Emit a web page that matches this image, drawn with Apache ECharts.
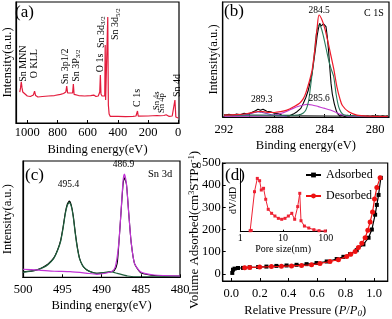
<!DOCTYPE html>
<html><head><meta charset="utf-8">
<script src="https://cdn.jsdelivr.net/npm/echarts@6/dist/echarts.min.js"></script>
<style>html,body{margin:0;padding:0;background:#fff}#c{width:392px;height:319px}</style>
</head><body><div id="c"></div>
<script>
// ---------- data ----------
// (a) survey spectrum [binding energy, intensity]
const surveyA = [[1050,25.6],[1045,29],[1040,34],[1035,29],[1030,25.6],[1020,24],[1000,22.3],[980,21.9],[960,23.1],[952,26.4],[945,22.7],[930,21.5],[900,21.9],[860,22.3],[820,22.7],[780,23.6],[760,24.4],[745,25.6],[739,30.6],[733,24.8],[720,24],[700,24.8],[695,32.2],[690,23.6],[660,22.7],[620,22.3],[580,22.7],[560,23.1],[545,21.9],[530,22.3],[520,25.6],[516,39.7],[512,24],[505,22.3],[500,23.1],[492,21.5],[487,22.3],[484,64.5],[481,19],[472,17.4],[467,87.6],[463,14.9],[458,7.4],[450,5.4],[400,5.4],[350,5.3],[300,5.4],[280,5.8],[270,9.9],[265,5.6],[200,5.8],[140,6.2],[131,7.4],[120,6.0],[95,6.2],[80,6.8],[70,6.0],[60,5.4],[40,5.8],[22,19],[16,5],[5,4.1],[0,4.1]];
const surveyTicks = [0,200,400,600,800,1000];
// [label, BE, intensity at label start, font size]
const surveyNotes = [['{t|Sn MNN}',1029,34,10],['{t|O KLL}',950,37,10],['{t|Sn 3p1/2}',747,32,10],['{t|Sn 3P}{s|3/2}',675,34,10],['{t|O 1s}',518,42,10],['{t|Sn 3d}{s|3/2}',512,62,10],['{t|Sn 3d}{s|5/2}',414,68.6,10],['{t|C 1s}',270,13.2,10],['{t|Sn 4s}',142,10.7,8.5],['{t|Sn 4p}',106,8.3,8.5],['{t|Sn 4d}',8,21.5,10]];

// (b) C 1s
const c1sRaw = [[291.9,1.5],[291.6,2.4],[291.3,1.2],[291.0,2.6],[290.7,2.0],[290.4,3.2],[290.1,2.4],[289.8,4.0],[289.5,5.5],[289.3,6.8],[289.1,5.9],[288.9,6.8],[288.6,5.0],[288.3,4.6],[288.0,3.2],[287.7,3.0],[287.4,1.5],[287.1,1.2],[286.8,1.0],[286.5,2.5],[286.2,4.6],[285.9,7.5],[285.7,11.9],[285.5,17],[285.3,23.5],[285.15,31],[285.0,38],[284.85,50],[284.75,58],[284.6,71],[284.5,77],[284.4,81.5],[284.3,79],[284.2,80],[284.1,81],[284.0,80],[283.9,78.5],[283.8,70],[283.7,58],[283.6,43],[283.5,29],[283.4,20],[283.25,11.9],[283.1,6],[283.0,3.2],[282.8,0.8],[282.6,1.5],[282.4,0.5],[282.2,1.4],[282.0,0.6],[281.8,1.2],[281.6,0.4],[281.4,1.0],[281.2,0.3],[281.0,1.1],[280.8,0.5],[280.6,1.0],[280.4,0.2],[280.2,1.3],[280.0,0.6],[279.8,1.1],[279.6,0.4],[279.4,1.2],[279.2,0.5],[279.0,1.3]];
const c1sFit = [[292,1.7],[291,2.0],[290.2,2.8],[289.7,4.0],[289.3,4.8],[288.9,4.6],[288.4,4.0],[288,3.9],[287.5,4.6],[287,6],[286.5,8.7],[286,12],[285.7,16],[285.5,21],[285.25,30],[285,41],[284.85,53],[284.75,62],[284.6,78],[284.45,88.7],[284.2,84],[284.0,77],[283.8,68],[283.56,56],[283.29,42],[283.03,26],[282.8,16],[282.6,10],[282.1,4.5],[281.45,1.7],[280.5,0.8],[279,0.5]];
const c1sMain = [[292,1.5],[287,1.5],[286,2],[285.7,3.5],[285.5,6],[285.3,13],[285.2,20],[284.94,43.5],[284.8,58],[284.67,72],[284.46,80],[284.3,78],[284.1,70],[283.9,60],[283.7,50],[283.5,42],[283.29,35],[283.1,20],[282.9,9],[282.7,4],[282.5,2],[282,1.2],[279,0.8]];
const c1sCO = [[292,0.8],[289,1],[288,1.8],[287.5,3],[287,5],[286.5,7.5],[286,9.5],[285.6,10.7],[285.4,11],[285.0,10.5],[284.5,9],[284,7.5],[283.56,6],[283,3.5],[282.6,1.7],[282,0.8],[279,0.3]];
const c1sOCO = [[291.5,1],[290.5,1.5],[290,2.5],[289.6,3.8],[289.3,4.4],[289,4],[288.6,3],[288.2,1.8],[287.6,1.0],[287,0.8]];
const c1sBase = [[292,1.9],[279,0.5]];
const c1sTicks = [280,284,288,292];
const c1sNotes = [['284.5',284.45,93],['285.6',284.45,16.5],['289.3',289.0,14.8]];

// (c) Sn 3d
const sn3dRaw = [[500,4.8],[499,5.3],[498,6.8],[497.4,8.8],[496.8,11.5],[496.1,16.5],[495.6,23.5],[495.2,32],[494.9,43],[494.6,56],[494.35,63],[494.1,65.5],[493.85,62],[493.6,53],[493.35,39],[493.1,27],[492.8,16.5],[492.4,10],[491.9,6.5],[491.2,4.4],[490.6,3.5],[489.8,3.8],[488.9,4.6],[488.4,5.5],[488.0,12],[487.8,28],[487.5,57],[487.24,81],[487.08,85.5],[486.82,80],[486.53,55],[486.22,30],[485.8,12],[485.04,4],[484,2.2],[483.3,1.6],[482,1.2],[480,1.0]];
const sn3dFit32 = [[500,4.3],[498.6,5.7],[497.4,8.5],[496.8,11],[496.1,16],[495.6,23],[495.2,31],[494.9,42],[494.6,55],[494.35,62],[494.1,64.2],[493.85,61],[493.6,52],[493.35,38],[493.1,26],[492.8,16],[492.4,10],[491.9,6.5],[491.2,4.2],[490.6,3.4],[489.8,4],[488.9,4.8],[488.0,3.4],[486.7,1.1],[485.0,0.3],[480,0.3]];
const sn3dFit52 = [[500,6.9],[498,6.2],[496,5.2],[494,4.8],[492,3.6],[490.6,2.6],[489.5,3.5],[488.6,5.5],[488.23,9.1],[487.8,29],[487.5,57.9],[487.24,83.7],[487.08,88.8],[486.82,80],[486.53,55],[486.22,30],[485.8,12],[485.04,4.8],[483.3,2.0],[480,1.1]];
const sn3dTicks = [480,485,490,495,500];
const sn3dNotes = [['495.4',494.2,79.4],['486.9',487.2,96.6]];

// (d) N2 isotherm [P/P0, volume]
const adsorbed = [[0.007,4.4],[0.012,19],[0.023,23.7],[0.047,26.7],[0.082,27],[0.129,30],[0.188,31],[0.246,33],[0.316,36],[0.387,38],[0.457,41],[0.527,44],[0.597,49],[0.668,56],[0.738,67],[0.785,77],[0.831,89],[0.878,107],[0.925,133],[0.961,163],[0.984,200],[1.007,267],[1.019,311],[1.031,356],[1.047,433]];
const desorbed = [[1.042,433],[1.019,390],[1.003,338],[0.989,279],[0.972,234],[0.956,197],[0.937,163],[0.914,138],[0.890,119],[0.867,101],[0.836,89],[0.808,79],[0.750,64],[0.691,56],[0.621,47],[0.562,41],[0.492,38],[0.422,36],[0.351,34],[0.281,33],[0.199,31],[0.129,29],[0.094,28]];
const isoXTicks = [0,0.2,0.4,0.6,0.8,1.0];
const isoYTicks = [0,100,200,300,400,500];
// inset pore size distribution [nm, dV/dD]
const poreDist = [[1.7,1.6],[1.8,2],[2.15,63.8],[2.5,85],[2.83,81.3],[3.1,66.5],[3.5,69.2],[3.93,51.7],[4.5,35.7],[5.4,29.3],[6.45,25],[7.76,21.3],[9.3,19.8],[11.1,21.3],[13.3,25],[16,29.3],[18.7,19.8],[22,40],[24.6,61.2],[26.3,17.5],[31.6,9],[40,5.9],[52.6,3.2],[69.5,1.6],[97,1.1]];

// ---------- chart ----------
const FONT = 'Liberation Serif';
const AX = {lineStyle:{color:'#000', width:1.2}, onZero:false};
const lbl = (extra) => Object.assign({color:'#000', fontFamily:FONT, fontSize:12.5}, extra||{});
function line(name, data, xi, color, w, extra){
  return Object.assign({name:name, type:'line', xAxisIndex:xi, yAxisIndex:xi, data:data, showSymbol:false, symbol:'none', lineStyle:{color:color, width:w}, itemStyle:{color:color}, silent:true, z:3}, extra||{});
}
const chart = echarts.init(document.getElementById('c'), null, {renderer:'canvas'});
const option = {
  animation:false,
  textStyle:{fontFamily:FONT},
  grid:[
    {left:14, top:2, width:165, height:121, show:true, borderColor:'#000', borderWidth:1.2},
    {left:222.7, top:2, width:166.3, height:115, show:true, borderColor:'#000', borderWidth:1.2},
    {left:22.7, top:161, width:157.3, height:116.3, show:true, borderColor:'#000', borderWidth:1.2},
    {left:222.7, top:163, width:165, height:120, show:true, borderColor:'#000', borderWidth:1.2},
    {left:240.3, top:169, width:85.5, height:62.7, show:false}
  ],
  legend:{left:305, top:169, padding:0, orient:'vertical', itemWidth:15, itemHeight:6, itemGap:9, data:['Adsorbed','Desorbed'], textStyle:lbl({fontSize:12}), selectedMode:false, z:8},
  xAxis:[
    {gridIndex:0, type:'value', inverse:true, min:-5, max:1075, axisLine:AX, splitLine:{show:false},
     axisTick:{inside:true, length:3, customValues:surveyTicks}, axisLabel:lbl({customValues:surveyTicks, margin:3, formatter:v=>String(v)}),
     name:'Binding energy(eV)', nameLocation:'middle', nameGap:20, nameTextStyle:lbl()},
    {gridIndex:1, type:'value', inverse:true, min:278.9, max:292.1, axisLine:AX, splitLine:{show:false},
     axisTick:{inside:true, length:3, customValues:[280,282,284,286,288,290,292]}, axisLabel:lbl({customValues:c1sTicks, margin:6, formatter:v=>String(v)}),
     name:'Binding energy(eV)', nameLocation:'middle', nameGap:22, nameTextStyle:lbl()},
    {gridIndex:2, type:'value', inverse:true, min:480, max:500, z:20, axisLine:AX, splitLine:{show:false},
     axisTick:{inside:true, length:3, customValues:sn3dTicks},
     axisLabel:lbl({customValues:sn3dTicks, margin:6, formatter:v=>String(v), overflow:'none', hideOverlap:false, showMinLabel:true, showMaxLabel:true, width:40}),
     name:'Binding energy(eV)', nameLocation:'middle', nameGap:22, nameTextStyle:lbl()},
    {gridIndex:3, type:'value', min:-0.06, max:1.095, axisLine:AX, splitLine:{show:false},
     axisTick:{inside:true, length:3, customValues:isoXTicks}, axisLabel:lbl({customValues:isoXTicks, margin:6, formatter:v=>v.toFixed(1)}),
     name:'{t|Relative Pressure (}{i|P}{t|/}{i|P}{s|0}{t|)}', nameLocation:'middle', nameGap:22,
     nameTextStyle:lbl({rich:{t:lbl(), i:lbl({fontStyle:'italic'}), s:lbl({fontStyle:'italic', fontSize:9, verticalAlign:'bottom', padding:[6,0,0,0]})}})},
    {gridIndex:4, type:'log', logBase:10, min:1, max:100, axisLine:{lineStyle:{color:'#000', width:1}, onZero:false}, splitLine:{show:false},
     axisTick:{inside:true, length:2}, minorTick:{show:false}, axisLabel:lbl({fontSize:10, margin:2}),
     name:'Pore size(nm)', nameLocation:'middle', nameGap:13, nameTextStyle:lbl({fontSize:10})}
  ],
  yAxis:[
    {gridIndex:0, type:'value', min:0, max:100, axisLine:AX, axisTick:{show:false}, axisLabel:{show:false}, splitLine:{show:false},
     name:'Intensity(a.u.)', nameLocation:'middle', nameGap:2, nameRotate:90, nameTextStyle:lbl()},
    {gridIndex:1, type:'value', min:0, max:100, axisLine:AX, axisTick:{show:false}, axisLabel:{show:false}, splitLine:{show:false},
     name:'Intensity(a.u.)', nameLocation:'middle', nameGap:2, nameRotate:90, nameTextStyle:lbl()},
    {gridIndex:2, type:'value', min:0, max:100, axisLine:AX, axisTick:{show:false}, axisLabel:{show:false}, splitLine:{show:false},
     name:'Intensity(a.u.)', nameLocation:'middle', nameGap:9, nameRotate:90, nameTextStyle:lbl()},
    {gridIndex:3, type:'value', min:-32, max:500, axisLine:AX, splitLine:{show:false},
     axisTick:{inside:true, length:3, customValues:isoYTicks}, axisLabel:lbl({customValues:isoYTicks, margin:2}),
     name:'Volume Adsorbed(cm{p|3}STPg{p|-1})', nameLocation:'middle', nameGap:21, nameRotate:90, nameMoveOverlap:false,
     nameTextStyle:lbl({fontSize:13, padding:[0,16,0,0], rich:{p:lbl({fontSize:8, verticalAlign:'top', padding:[0,0,6,0]})}})},
    {gridIndex:4, type:'value', min:0, max:100, axisLine:{lineStyle:{color:'#000', width:1}}, axisTick:{show:false}, axisLabel:{show:false}, splitLine:{show:false},
     name:'dV/dD', nameLocation:'middle', nameGap:2, nameRotate:90, nameTextStyle:lbl({fontSize:10})}
  ],
  series:[
    line('survey', surveyA, 0, '#e31b3c', 1.2),
    line('base', c1sBase, 1, '#555555', 1),
    line('raw', c1sRaw, 1, '#000000', 1.1),
    line('OCO', c1sOCO, 1, '#6a3cc0', 1),
    line('CO', c1sCO, 1, '#c23bd0', 1.1, {smooth:0.3}),
    line('main', c1sMain, 1, '#2a7a5c', 1.1, {smooth:0.3}),
    line('fit', c1sFit, 1, '#ee1a2a', 1.2, {smooth:0.3}),
    line('raw3d', sn3dRaw, 2, '#000000', 1.1, {smooth:0.2}),
    line('fit32', sn3dFit32, 2, '#1f5e3c', 1.2, {smooth:0.2}),
    line('fit52', sn3dFit52, 2, '#c233d6', 1.2, {smooth:0.2}),
    {name:'Adsorbed', type:'line', xAxisIndex:3, yAxisIndex:3, data:adsorbed, symbol:'rect', symbolSize:4, lineStyle:{color:'#000', width:1.2}, itemStyle:{color:'#000'}, z:3},
    {name:'Desorbed', type:'line', xAxisIndex:3, yAxisIndex:3, data:desorbed, symbol:'circle', symbolSize:5, lineStyle:{color:'#ee1111', width:1.2}, itemStyle:{color:'#ee1111'}, z:4},
    {name:'pore', type:'line', xAxisIndex:4, yAxisIndex:4, data:poreDist, symbol:'rect', symbolSize:3, lineStyle:{color:'#ee2233', width:1}, itemStyle:{color:'#ee2233'}, z:6}
  ]
};
chart.setOption(option);

// ---------- annotations ----------
const g = [];
function txt(x, y, text, size, extra){
  g.push(Object.assign({type:'text', x:x, y:y, z:10, style:{text:text, fill:'#000', fontSize:size, fontFamily:FONT, textAlign:'left', textVerticalAlign:'middle', align:'left', verticalAlign:'middle'}}, extra||{}));
}
txt(15, 13, '(a)', 17); txt(224, 12, '(b)', 17); txt(25, 176, '(c)', 17); txt(225, 176, '(d)', 17);
surveyNotes.forEach(n=>{
  const p = chart.convertToPixel({gridIndex:0}, [n[1], n[2]]);
  const fs = n[3];
  const rich = {t:{fontSize:fs, fontFamily:FONT, fill:'#000'}, s:{fontSize:fs*0.68, fontFamily:FONT, fill:'#000', verticalAlign:'bottom', padding:[4,0,0,0]}};
  g.push({type:'text', x:p[0], y:p[1], rotation:Math.PI/2, z:10, style:{text:n[0], rich:rich, fontSize:fs, fontFamily:FONT, fill:'#000', textAlign:'left', textVerticalAlign:'middle', align:'left', verticalAlign:'middle'}});
});
function center(gi, notes, size){
  notes.forEach(n=>{
    const p = chart.convertToPixel({gridIndex:gi}, [n[1], n[2]]);
    g.push({type:'text', x:p[0], y:p[1], z:10, style:{text:n[0], fontSize:size, fontFamily:FONT, fill:'#000', textAlign:'center', textVerticalAlign:'middle', align:'center', verticalAlign:'middle'}});
  });
}
center(1, c1sNotes, 9.5);
center(2, sn3dNotes, 9.5);
txt(364, 13, 'C 1S', 10);
txt(148, 174, 'Sn 3d', 10.5);
chart.setOption({graphic:g});
</script></body></html>
